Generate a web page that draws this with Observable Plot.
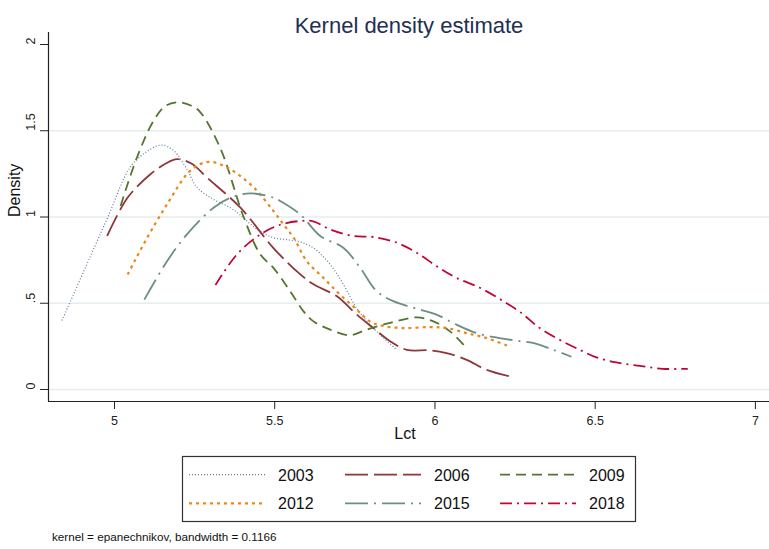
<!DOCTYPE html>
<html>
<head>
<meta charset="utf-8">
<script src="https://cdn.jsdelivr.net/npm/d3@7"></script>
<script src="https://cdn.jsdelivr.net/npm/@observablehq/plot@0.6"></script>
<style>
  html, body { margin: 0; padding: 0; background: #fff; }
  body { width: 769px; height: 549px; position: relative; overflow: hidden; font-family: "Liberation Sans", Arial, sans-serif; }
  #chart { position: absolute; left: 0; top: 0; }
  #legend { position: absolute; left: 0; top: 440px; }
</style>
</head>
<body>
<div id="chart"></div>
<div id="legend"></div>
<script>
// ---- data ----
const years = ["2003", "2006", "2009", "2012", "2015", "2018"];
const colors = ["#5d7a98", "#90353b", "#55752f", "#e68a1e", "#6e8e84", "#c10534"];
const dashes = ["1,2", "23,6", "10,6", "3,4", "23,6,2,6", "12,5,2,5"];
const widths = [1.2, 1.8, 1.8, 2.2, 1.8, 1.8];

const x2003 = [4.836, 4.977, 5.05, 5.112, 5.149, 5.185, 5.226, 5.258, 5.309, 5.361, 5.39, 5.445, 5.496, 5.54, 5.58, 5.621, 5.673, 5.714, 5.756, 5.797, 5.839, 5.881];
const y2003 = [0.40, 0.99, 1.29, 1.393, 1.417, 1.384, 1.277, 1.17, 1.102, 1.054, 1.015, 0.928, 0.88, 0.868, 0.855, 0.82, 0.725, 0.61, 0.47, 0.376, 0.30, 0.23];

const x2006 = [4.977, 5.04, 5.112, 5.16, 5.195, 5.24, 5.289, 5.393, 5.496, 5.58, 5.621, 5.694, 5.756, 5.808, 5.86, 5.912, 5.984, 6.036, 6.099, 6.161, 6.234];
const y2006 = [0.89, 1.11, 1.248, 1.31, 1.335, 1.31, 1.228, 1.054, 0.82, 0.667, 0.61, 0.54, 0.434, 0.356, 0.28, 0.23, 0.227, 0.211, 0.172, 0.114, 0.076];

const x2009 = [5.019, 5.07, 5.122, 5.16, 5.2, 5.24, 5.268, 5.33, 5.403, 5.455, 5.496, 5.548, 5.59, 5.621, 5.673, 5.735, 5.787, 5.86, 5.943, 5.995, 6.047, 6.099];
const y2009 = [1.064, 1.345, 1.558, 1.645, 1.665, 1.645, 1.607, 1.40, 1.0, 0.783, 0.705, 0.57, 0.453, 0.395, 0.347, 0.314, 0.347, 0.386, 0.418, 0.395, 0.337, 0.24];

const x2012 = [5.041, 5.102, 5.164, 5.226, 5.26, 5.299, 5.361, 5.434, 5.496, 5.53, 5.559, 5.6, 5.652, 5.704, 5.756, 5.797, 5.829, 5.9, 5.984, 6.036, 6.099, 6.161, 6.228];
const y2012 = [0.667, 0.88, 1.074, 1.248, 1.30, 1.32, 1.277, 1.172, 1.035, 0.95, 0.88, 0.744, 0.647, 0.55, 0.463, 0.395, 0.372, 0.356, 0.362, 0.356, 0.327, 0.298, 0.253];

const x2015 = [5.093, 5.164, 5.226, 5.309, 5.36, 5.424, 5.496, 5.517, 5.579, 5.642, 5.714, 5.766, 5.818, 5.87, 5.953, 6.005, 6.067, 6.13, 6.202, 6.265, 6.306, 6.369, 6.426];
const y2015 = [0.521, 0.744, 0.899, 1.054, 1.11, 1.137, 1.112, 1.093, 1.016, 0.89, 0.822, 0.707, 0.57, 0.512, 0.463, 0.434, 0.376, 0.327, 0.298, 0.28, 0.27, 0.23, 0.19];

const x2018 = [5.315, 5.382, 5.455, 5.517, 5.58, 5.62, 5.673, 5.745, 5.808, 5.881, 5.943, 6.005, 6.067, 6.14, 6.202, 6.265, 6.327, 6.389, 6.452, 6.504, 6.566, 6.639, 6.711, 6.789];
const y2018 = [0.605, 0.783, 0.899, 0.955, 0.977, 0.975, 0.928, 0.89, 0.884, 0.851, 0.793, 0.715, 0.647, 0.59, 0.525, 0.45, 0.356, 0.288, 0.23, 0.186, 0.157, 0.137, 0.12, 0.12];

const xTicks = [5, 5.5, 6, 6.5, 7];
const xTickLabels = ["5", "5.5", "6", "6.5", "7"];
const yTicks = [0, 0.5, 1, 1.5, 2];
const yTickLabels = ["0", ".5", "1", "1.5", "2"];
const gridVals = [0, 0.5, 1, 1.5];
const xDomain = [4.794, 7.044];
const yDomain = [-0.0696, 2.0696];

const titleText = "Kernel density estimate";
const xLabel = "Lct";
const yLabel = "Density";
const captionText = "kernel = epanechnikov, bandwidth = 0.1166";

// ---- build rows ----
const xs = [x2003, x2006, x2009, x2012, x2015, x2018];
const ys = [y2003, y2006, y2009, y2012, y2015, y2018];
const series = years.map((yr, i) => xs[i].map((x, j) => ({year: yr, x, y: ys[i][j]})));

const lineMarks = series.map((rows, i) => Plot.line(rows, {
  x: "x", y: "y", stroke: colors[i], strokeWidth: widths[i],
  strokeDasharray: dashes[i], curve: "catmull-rom", strokeLinecap: "butt"
}));

const plot = Plot.plot({
  width: 769,
  height: 440,
  marginLeft: 48,
  marginRight: 0,
  marginTop: 32,
  marginBottom: 39,
  style: {fontFamily: "Liberation Sans, Arial, sans-serif", fontSize: "12.5px", color: "#222", background: "#fff", overflow: "visible"},
  x: {domain: xDomain, ticks: xTicks, tickSize: 8, tickPadding: 7, tickFormat: (d, i) => xTickLabels[xTicks.indexOf(d)], label: null},
  y: {domain: yDomain, ticks: yTicks, tickSize: 8, tickPadding: 3, tickFormat: () => "", label: null},
  marks: [
    Plot.ruleY(gridVals, {stroke: "#e6edf1", strokeWidth: 1.3}),
    ...lineMarks,
    Plot.ruleX([xDomain[0]], {stroke: "#222", strokeWidth: 1.2}),
    Plot.ruleY([yDomain[0]], {stroke: "#222", strokeWidth: 1.2}),
    Plot.text(yTicks, {y: d => d, text: (d, i) => yTickLabels[i], frameAnchor: "left", dx: -18, rotate: -90, fontSize: 12.5, fill: "#222"}),
    Plot.text([titleText], {frameAnchor: "top", dy: -15, fontSize: 22, fill: "#1f2f55"}),
    Plot.text([xLabel], {frameAnchor: "bottom", dy: 37, dx: -4, fontSize: 16, fill: "#111"}),
    Plot.text([yLabel], {frameAnchor: "left", dx: -34, rotate: -90, fontSize: 16, fill: "#111"})
  ]
});
document.getElementById("chart").appendChild(plot);

// ---- legend + caption ----
const lsvg = d3.select("#legend").append("svg")
  .attr("width", 769).attr("height", 109)
  .style("font-family", "Liberation Sans, Arial, sans-serif");
const oy = 440;
lsvg.append("rect").attr("x", 182.5).attr("y", 456.5 - oy).attr("width", 453).attr("height", 65)
  .attr("fill", "#fff").attr("stroke", "#333").attr("stroke-width", 1.2);
const colX = [189, 345, 500];
const labX = [278, 434, 589];
const rowY = [474.7, 503.3];
years.forEach((yr, i) => {
  const c = i % 3, r = Math.floor(i / 3);
  lsvg.append("line")
    .attr("x1", colX[c]).attr("x2", colX[c] + 76)
    .attr("y1", rowY[r] - oy).attr("y2", rowY[r] - oy)
    .attr("stroke", colors[i]).attr("stroke-width", widths[i])
    .attr("stroke-dasharray", dashes[i]);
  lsvg.append("text")
    .attr("x", labX[c]).attr("y", rowY[r] - oy + 6)
    .attr("font-size", 16).attr("fill", "#111")
    .text(yr);
});
lsvg.append("text").attr("x", 52).attr("y", 541 - oy)
  .attr("font-size", 11.7).attr("fill", "#111").text(captionText);
</script>
</body>
</html>
